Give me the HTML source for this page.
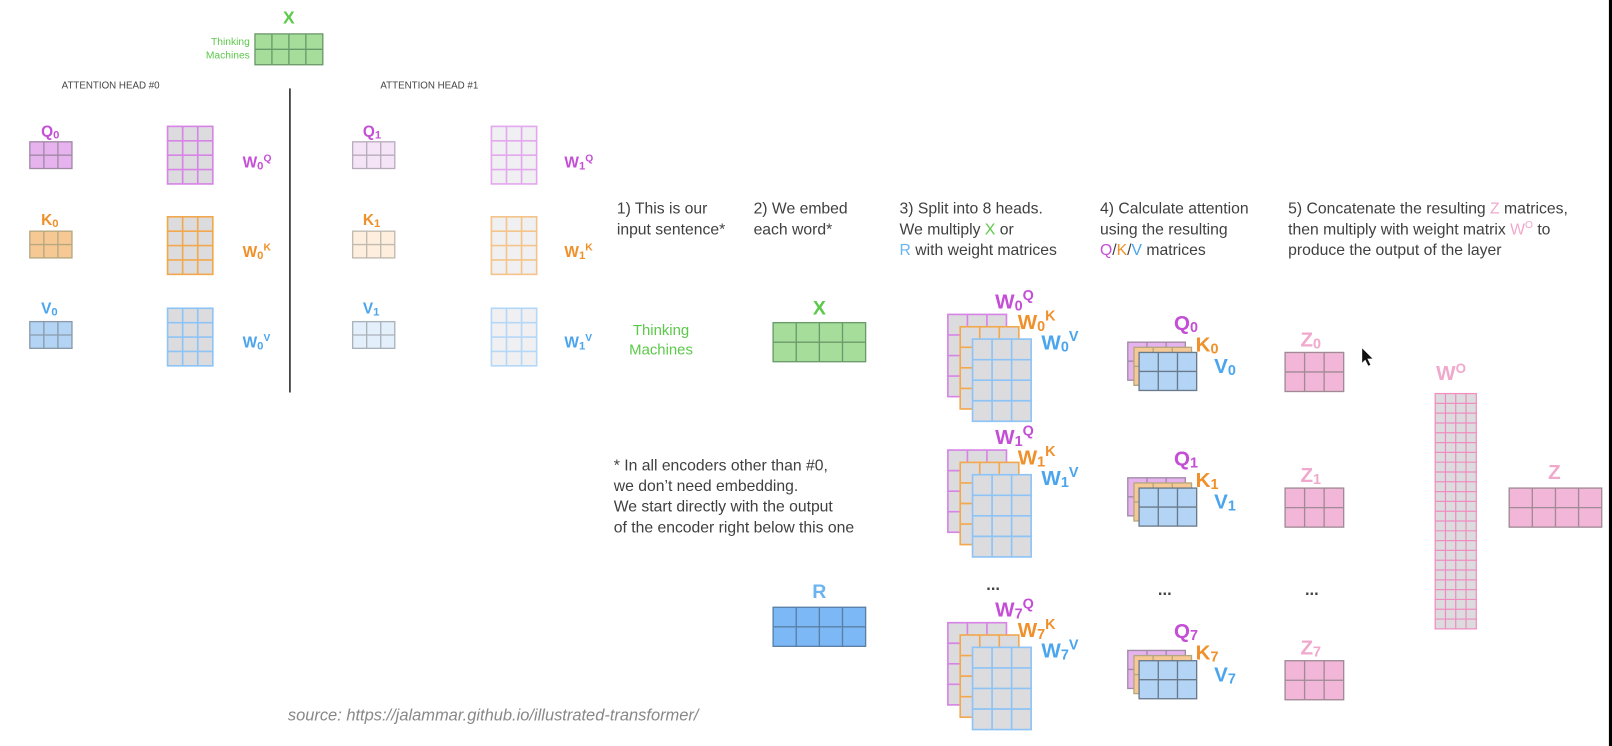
<!DOCTYPE html>
<html><head><meta charset="utf-8"><style>
html,body{margin:0;padding:0;background:#fff;width:1612px;height:746px;overflow:hidden}
svg{display:block}
text{font-family:"Liberation Sans",sans-serif}
.s{font-size:15.3px;fill:#404040}
.b{font-weight:bold}
</style></head><body>
<svg id="sv" width="1612" height="746" viewBox="0 0 1568 726" preserveAspectRatio="none">
<rect width="1568" height="726" fill="#fff"/>
<g id="grids"></g>
<text x="281" y="23" font-size="17" class="b" fill="#5cc94a" text-anchor="middle">X</text>
<text x="243" y="44" font-size="10" fill="#5cc94a" text-anchor="end">Thinking</text>
<text x="243" y="57" font-size="10" fill="#5cc94a" text-anchor="end">Machines</text>
<text x="60" y="86" font-size="9.5" fill="#444">ATTENTION HEAD #0</text>
<text x="370" y="86" font-size="9.5" fill="#444">ATTENTION HEAD #1</text>
<line x1="282" y1="86" x2="282" y2="382" stroke="#222" stroke-width="1.5"/>
<g class="b" font-size="15">
<text x="40" y="133" fill="#c44ed6">Q<tspan font-size="11" dy="2">0</tspan></text>
<text x="40" y="219" fill="#f0902a">K<tspan font-size="11" dy="2">0</tspan></text>
<text x="40" y="305" fill="#4aa5ee">V<tspan font-size="11" dy="2">0</tspan></text>
<text x="353" y="133" fill="#c44ed6">Q<tspan font-size="11" dy="2">1</tspan></text>
<text x="353" y="219" fill="#f0902a">K<tspan font-size="11" dy="2">1</tspan></text>
<text x="353" y="305" fill="#4aa5ee">V<tspan font-size="11" dy="2">1</tspan></text>
<text x="236" y="163" fill="#c44ed6">W<tspan font-size="11" dy="2">0</tspan><tspan font-size="10" dy="-8">Q</tspan></text>
<text x="236" y="250" fill="#f0902a">W<tspan font-size="11" dy="2">0</tspan><tspan font-size="10" dy="-8">K</tspan></text>
<text x="236" y="338" fill="#4aa5ee">W<tspan font-size="11" dy="2">0</tspan><tspan font-size="10" dy="-8">V</tspan></text>
<text x="549" y="163" fill="#c44ed6">W<tspan font-size="11" dy="2">1</tspan><tspan font-size="10" dy="-8">Q</tspan></text>
<text x="549" y="250" fill="#f0902a">W<tspan font-size="11" dy="2">1</tspan><tspan font-size="10" dy="-8">K</tspan></text>
<text x="549" y="338" fill="#4aa5ee">W<tspan font-size="11" dy="2">1</tspan><tspan font-size="10" dy="-8">V</tspan></text>
</g>
<g class="s">
<text x="600" y="208">1) This is our</text><text x="600" y="228">input sentence*</text>
<text x="733" y="208">2) We embed</text><text x="733" y="228">each word*</text>
<text x="875" y="208">3) Split into 8 heads.</text>
<text x="875" y="228">We multiply <tspan fill="#5cc94a">X</tspan> or</text>
<text x="875" y="248"><tspan fill="#6bb4f0">R</tspan> with weight matrices</text>
<text x="1070" y="208">4) Calculate attention</text>
<text x="1070" y="228">using the resulting</text>
<text x="1070" y="248"><tspan fill="#c44ed6">Q</tspan>/<tspan fill="#f0902a">K</tspan>/<tspan fill="#4aa5ee">V</tspan> matrices</text>
<text x="1253" y="208">5) Concatenate the resulting <tspan fill="#f0a8cc">Z</tspan> matrices,</text>
<text x="1253" y="228">then multiply with weight matrix <tspan fill="#f0a8cc">W<tspan font-size="10" dy="-6">O</tspan></tspan><tspan dy="6"> to</tspan></text>
<text x="1253" y="248">produce the output of the layer</text>
<text x="597" y="458">* In all encoders other than #0,</text>
<text x="597" y="478">we don’t need embedding.</text>
<text x="597" y="498">We start directly with the output</text>
<text x="597" y="518">of the encoder right below this one</text>
</g>
<text x="643" y="326" font-size="14.5" fill="#5cc94a" text-anchor="middle">Thinking</text>
<text x="643" y="345" font-size="14.5" fill="#5cc94a" text-anchor="middle">Machines</text>
<text x="797" y="306" font-size="19" class="b" fill="#5cc94a" text-anchor="middle">X</text>
<text x="797" y="582" font-size="19" class="b" fill="#6bb4f0" text-anchor="middle">R</text>
<g id="labels" class="b" font-size="20"></g>
<text x="966" y="574" font-size="16" class="b" fill="#444" text-anchor="middle">...</text>
<text x="1133" y="579" font-size="16" class="b" fill="#444" text-anchor="middle">...</text>
<text x="1276" y="579" font-size="16" class="b" fill="#444" text-anchor="middle">...</text>
<text x="1397" y="370" font-size="20" class="b" fill="#f0a8cc">W<tspan font-size="13" dy="-7">O</tspan></text>
<text x="1512" y="466" font-size="20" class="b" fill="#f0a8cc" text-anchor="middle">Z</text>
<text x="280" y="701" font-size="16" font-style="italic" fill="#888">source: https://jalammar.github.io/illustrated-transformer/</text>
<path d="M1325,339 L1325,353 L1328,350 L1331,356 L1333,355 L1330,349 L1335,349 Z" fill="#111"/>
<rect x="1565" y="0" width="3" height="726" fill="#000"/>
</svg>
<script>
var G=document.getElementById('grids'),L=document.getElementById('labels'),NS='http://www.w3.org/2000/svg';
function g(x,y,w,h,c,r,f,s,sw){var d='';for(var i=1;i<c;i++){var xx=x+w*i/c;d+='M'+xx+','+y+'V'+(y+h);}for(var j=1;j<r;j++){var yy=y+h*j/r;d+='M'+x+','+yy+'H'+(x+w);}
var R=document.createElementNS(NS,'rect');R.setAttribute('x',x);R.setAttribute('y',y);R.setAttribute('width',w);R.setAttribute('height',h);R.setAttribute('fill',f);R.setAttribute('stroke',s);R.setAttribute('stroke-width',sw||1.3);G.appendChild(R);
var P=document.createElementNS(NS,'path');P.setAttribute('d',d);P.setAttribute('stroke',s);P.setAttribute('stroke-width',sw||1.3);P.setAttribute('fill','none');G.appendChild(P);}
function t(x,y,txt,sub,sup,col){var T=document.createElementNS(NS,'text');T.setAttribute('x',x);T.setAttribute('y',y);T.setAttribute('fill',col);
T.innerHTML=txt+'<tspan font-size="14" dy="2">'+sub+'</tspan>'+(sup?'<tspan font-size="14" dy="-10">'+sup+'</tspan>':'');L.appendChild(T);}
g(248,33,66,30,4,2,'#a6dd9a','#6a9a6a');
g(29,138,41,26,3,2,'#e6b3ef','#a08aa5');g(163,123,44,56,3,4,'#dcdcdf','#d784e6',1.6);
g(29,225,41,26,3,2,'#f6c894','#b5a880');g(163,211,44,56,3,4,'#dcdcdf','#f2a84e',1.6);
g(29,313,41,26,3,2,'#b3d4f5','#8a9aaa');g(163,300,44,56,3,4,'#dcdcdf','#8ec3f5',1.6);
g(343,138,41,26,3,2,'#f5e3f8','#b8aebb');g(478,123,44,56,3,4,'#f0f0f2','#e3a8ee',1.6);
g(343,225,41,26,3,2,'#fdeedd','#c0bab0');g(478,211,44,56,3,4,'#f0f0f2','#f5c48a',1.6);
g(343,313,41,26,3,2,'#e3effb','#aab2ba');g(478,300,44,56,3,4,'#f0f0f2','#b5d8f8',1.6);
g(752,314,90,38,4,2,'#a6dd9a','#6a9a6a');
g(752,591,90,38,4,2,'#7bb8f5','#5a7fa5');
var offs=[0,132,300],subs=['0','1','7'];
for(var k=0;k<3;k++){var o=offs[k];
g(922,306+o,57,80,3,4,'#dcdcdf','#d784e6',1.6);
g(934,318+o,57,80,3,4,'#dcdcdf','#f2a84e',1.6);
g(946,330+o,57,80,3,4,'#dcdcdf','#8ec3f5',1.6);
t(968,300+o,'W',subs[k],'Q','#c44ed6');t(990,320+o,'W',subs[k],'K','#f0902a');t(1013,340+o,'W',subs[k],'V','#4aa5ee');
g(1097,333+o,56,37,3,2,'#e6b3ef','#a08aa5');
g(1103,338+o,56,37,3,2,'#f6c894','#b5a880');
g(1108,343+o,56,37,3,2,'#b3d4f5','#6a7a8a');
t(1142,321+o,'Q',subs[k],'','#c44ed6');t(1163,342+o,'K',subs[k],'','#f0902a');t(1181,363+o,'V',subs[k],'','#4aa5ee');
g(1250,343+o,57,38,3,2,'#f2b6d8','#a08a95');
t(1265,337+o,'Z',subs[k],'','#f0a8cc');}
g(1396,383,40,229,4,24,'#dcdcdf','#f08cc0',1.2);
g(1468,475,90,38,4,2,'#f2b6d8','#a08a95');
</script>
</body></html>
